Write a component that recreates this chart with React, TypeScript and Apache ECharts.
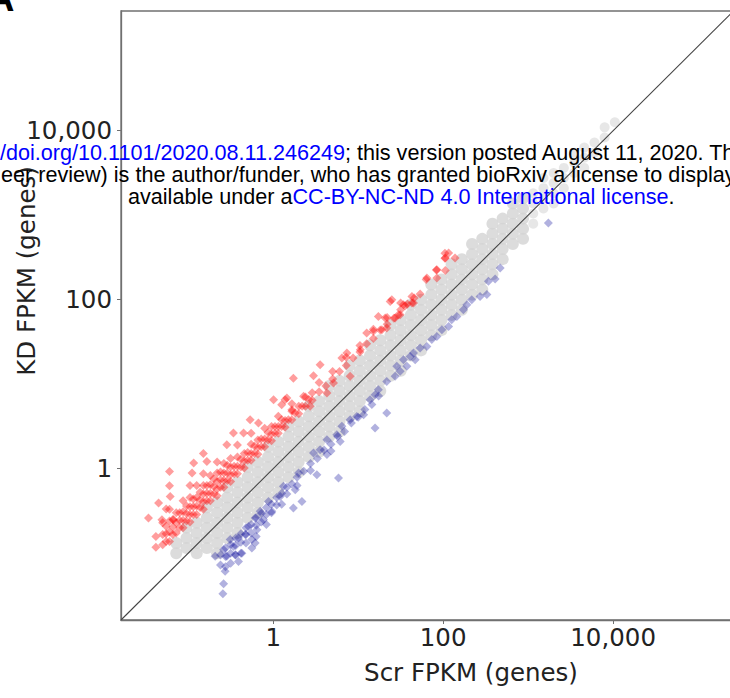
import { useEffect, useRef } from "react";
import * as echarts from "echarts";

// Tick values shown on both log axes
const tickValues = [1, 100, 10000];
const axisMin = 0.0162;
const xMax = 1.58e6;
const yMax = 2.61e5;

// Non-significant genes (gray): [Scr FPKM, [KD FPKM ...]]
const grayColumns: [number, number[]][] = [
  [0.0724, [0.1, 0.132]],
  [0.0955, [0.115, 0.151, 0.2]],
  [0.126, [0.1, 0.132, 0.174, 0.229]],
  [0.166, [0.115, 0.151, 0.2, 0.263, 0.347]],
  [0.219, [0.1, 0.132, 0.174, 0.229, 0.302, 0.398]],
  [0.288, [0.151, 0.2, 0.263, 0.347, 0.457, 0.603]],
  [0.38, [0.174, 0.229, 0.302, 0.398, 0.525, 0.692]],
  [0.501, [0.263, 0.347, 0.457, 0.603, 0.794, 1.047]],
  [0.661, [0.302, 0.398, 0.525, 0.692, 0.912, 1.202]],
  [0.871, [0.457, 0.603, 0.794, 1.047, 1.38, 1.82]],
  [1.148, [0.525, 0.692, 0.912, 1.202, 1.585, 2.089]],
  [1.514, [0.794, 1.047, 1.38, 1.82, 2.399, 3.162]],
  [1.995, [0.912, 1.202, 1.585, 2.089, 2.754, 3.631]],
  [2.63, [1.38, 1.82, 2.399, 3.162, 4.169, 5.495]],
  [3.467, [1.585, 2.089, 2.754, 3.631, 4.786, 6.31]],
  [4.571, [2.399, 3.162, 4.169, 5.495, 7.244, 9.55]],
  [6.026, [2.754, 3.631, 4.786, 6.31, 8.318, 10.96]],
  [7.943, [4.169, 5.495, 7.244, 9.55, 12.59, 16.6]],
  [10.47, [4.786, 6.31, 8.318, 10.96, 14.45, 19.05]],
  [13.8, [7.244, 9.55, 12.59, 16.6, 21.88, 28.84]],
  [18.2, [8.318, 10.96, 14.45, 19.05, 25.12, 33.11]],
  [23.99, [12.59, 16.6, 21.88, 28.84, 38.02, 50.12]],
  [31.62, [14.45, 19.05, 25.12, 33.11, 43.65, 57.54]],
  [41.69, [21.88, 28.84, 38.02, 50.12, 66.07, 87.1]],
  [54.95, [25.12, 33.11, 43.65, 57.54, 75.86, 100]],
  [72.44, [38.02, 50.12, 66.07, 87.1, 114.8, 151.4]],
  [95.5, [43.65, 57.54, 75.86, 100, 131.8, 173.8]],
  [125.9, [66.07, 87.1, 114.8, 151.4, 199.5, 263]],
  [166, [75.86, 100, 131.8, 173.8, 229.1, 302]],
  [218.8, [114.8, 151.4, 199.5, 263, 346.7, 457.1]],
  [288.4, [131.8, 173.8, 229.1, 302, 398.1, 524.8]],
  [380.2, [199.5, 263, 346.7, 457.1, 602.6, 794.3]],
  [501.2, [302, 398.1, 524.8, 691.8, 912]],
  [660.7, [457.1, 602.6, 794.3, 1047, 1380]],
  [871, [524.8, 691.8, 912, 1202, 1585]],
];

const grayTailColumns: [number, number[]][] = [
  [1148, [794.3, 1047, 1380, 1820]],
  [1514, [1202, 1585, 2089, 2754]],
  [1995, [1380, 1820, 2399, 3162]],
  [2630, [2089, 2754, 3631]],
  [3467, [3162, 4169, 5495]],
  [4571, [3631, 4786, 6310]],
  [6026, [5495, 7244]],
  [7943, [8318, 10960]],
  [10470, [12590]],
];

// Up-regulated in KD (red): [Scr FPKM, KD FPKM]
const redPoints: number[][] = [
  [0.0417, 0.118], [0.0417, 0.158],
  [0.0501, 0.126], [0.0501, 0.166], [0.0501, 0.229],
  [0.0603, 0.138], [0.0603, 0.178], [0.0603, 0.24], [0.0603, 0.331],
  [0.0724, 0.174], [0.0724, 0.229], [0.0724, 0.302],
  [0.0871, 0.2], [0.0871, 0.245], [0.0871, 0.309], [0.0871, 0.417],
  [0.105, 0.234], [0.105, 0.288], [0.105, 0.355], [0.105, 0.457], [0.105, 0.631],
  [0.126, 0.288], [0.126, 0.363], [0.126, 0.457], [0.126, 0.631],
  [0.151, 0.331], [0.151, 0.407], [0.151, 0.501], [0.151, 0.631], [0.151, 0.871],
  [0.182, 0.417], [0.182, 0.513], [0.182, 0.646], [0.182, 0.832],
  [0.219, 0.479], [0.219, 0.575], [0.219, 0.708], [0.219, 0.891], [0.219, 1.2],
  [0.263, 0.603], [0.263, 0.724], [0.263, 0.891], [0.263, 1.15],
  [0.316, 0.708], [0.316, 0.851], [0.316, 1.05], [0.316, 1.32],
  [0.38, 0.871], [0.38, 1.07], [0.38, 1.38], [0.38, 1.91],
  [0.457, 1.02], [0.457, 1.23], [0.457, 1.51],
  [0.55, 1.26], [0.55, 1.51], [0.55, 1.95], [0.55, 2.63],
  [0.661, 1.48], [0.661, 1.78], [0.661, 2.19],
  [0.794, 1.82], [0.794, 2.24], [0.794, 3.02],
  [0.955, 2.14], [0.955, 2.57], [0.955, 3.16],
  [1.15, 2.63], [1.15, 3.16], [1.15, 4.17],
  [1.38, 3.09], [1.38, 3.72],
  [1.66, 3.8], [1.66, 4.79], [1.66, 5.89],
  [2.0, 4.47], [2.0, 5.5],
  [2.4, 5.5], [2.4, 7.08],
  [2.88, 6.46], [2.88, 7.94],
  [3.47, 8.13], [3.47, 10.5],
  [4.17, 9.55],
  [5.01, 11.5], [5.01, 14.1],
  [6.03, 14.1],
  [7.24, 16.6], [7.24, 20.9],
  [8.71, 20.4],
  [10.5, 24.0], [10.5, 28.8],
  [12.6, 30.2],
  [15.1, 34.7], [15.1, 44.7],
  [18.2, 43.7],
  [21.9, 51.3], [21.9, 61.7],
  [26.3, 60.3],
  [31.6, 75.9], [31.6, 91.2],
  [38.0, 89.1],
  [45.7, 105],
  [63.1, 174],
  [83.2, 224],
  [105, 309], [105, 355],
  [0.055, 0.138], [0.055, 0.17], [0.055, 0.209],
  [0.0661, 0.166], [0.0661, 0.204], [0.0661, 0.251],
  [0.0794, 0.2], [0.0794, 0.245], [0.0794, 0.302],
  [0.0955, 0.24], [0.0955, 0.295], [0.0955, 0.363],
  [0.115, 0.288], [0.115, 0.355], [0.115, 0.437],
  [0.138, 0.347], [0.138, 0.427], [0.138, 0.525],
  [0.166, 0.417], [0.166, 0.513], [0.166, 0.631],
  [0.2, 0.501], [0.2, 0.617], [0.2, 0.759],
  [0.24, 0.603], [0.24, 0.741], [0.24, 0.912],
  [0.288, 0.724], [0.288, 0.891], [0.288, 1.1],
  [0.347, 0.871], [0.347, 1.07],
  [0.417, 1.05], [0.417, 1.29],
  [0.501, 1.26], [0.501, 1.55],
  [0.603, 1.51], [0.603, 1.86],
  [0.724, 1.82], [0.724, 2.24],
  [0.871, 2.19], [0.871, 2.69],
  [1.05, 2.63], [1.05, 3.16],
  [1.26, 3.16], [1.26, 3.8],
  [1.51, 3.8],
  [1.82, 4.57],
  [2.19, 5.5],
  [2.63, 6.61],
  [0.0341, 0.261], [0.0448, 0.393], [0.0491, 0.249], [0.0603, 0.929],
  [0.0603, 0.63], [0.0614, 0.47], [0.0551, 0.333], [0.0671, 0.249],
  [0.111, 0.889], [0.116, 1.17], [0.151, 1.51], [0.166, 1.22],
  [0.285, 1.92], [0.341, 2.64], [0.448, 2.64], [0.536, 3.8], [0.671, 3.48],
  [1.01, 6.56], [1.26, 5.71], [1.45, 6.87], [1.73, 11.8], [2.98, 12.6],
  [1.38, 6.56], [2.28, 7.18], [1.66, 4.99], [2.72, 5.47], [4.29, 7.87],
  [5.13, 10.3], [8.05, 12.4], [3.57, 17.0], [6.43, 20.4], [7.36, 23.4],
  [10.6, 25.6], [12.6, 40.4], [15.1, 42.2], [17.3, 63.4], [29.8, 66.4],
  [23.8, 95.5], [34.1, 87.3], [42.9, 91.4], [116, 357], [138, 312],
  [106, 312], [84.3, 226], [106, 222], [64.3, 181], [84.3, 181],
  [24.9, 100], [42.9, 109], [53.6, 117], [35.7, 84.9], [44.8, 91.4],
  [31.2, 66.4], [27.2, 60.7], [20.8, 60.7], [21.7, 46.2], [19.0, 44.2],
];

// Down-regulated in KD (blue): [Scr FPKM, KD FPKM]
const bluePoints: number[][] = [
  [0.24, 0.0955], [0.24, 0.0724],
  [0.275, 0.115], [0.275, 0.0912], [0.275, 0.0692],
  [0.316, 0.126], [0.316, 0.1], [0.316, 0.0759],
  [0.363, 0.151], [0.363, 0.123], [0.363, 0.0955],
  [0.417, 0.17], [0.417, 0.135], [0.417, 0.1],
  [0.479, 0.2], [0.479, 0.166], [0.479, 0.132],
  [0.55, 0.219], [0.55, 0.174],
  [0.631, 0.263], [0.631, 0.214], [0.631, 0.158],
  [0.724, 0.295], [0.724, 0.234],
  [0.832, 0.347], [0.832, 0.288], [0.832, 0.219],
  [0.955, 0.38], [0.955, 0.302],
  [1.1, 0.457], [1.1, 0.372],
  [1.26, 0.513], [1.26, 0.38],
  [1.45, 0.603], [1.45, 0.501],
  [1.66, 0.661],
  [1.91, 0.794], [1.91, 0.631],
  [2.29, 0.933],
  [2.75, 1.15], [2.75, 0.955],
  [3.31, 1.32],
  [3.98, 1.66],
  [4.79, 1.95], [4.79, 1.62],
  [5.75, 2.4],
  [6.92, 2.75],
  [8.32, 3.47],
  [10, 4.07],
  [12.0, 5.01],
  [14.5, 5.75],
  [17.4, 7.24],
  [1730, 809], [469, 237], [409, 176], [341, 165], [327, 115], [272, 109],
  [217, 100], [190, 87.3], [173, 76.2], [145, 63.4], [126, 57.9], [116, 48.3],
  [96.6, 44.2], [84.3, 36.8], [73.6, 33.7], [64.3, 28.0], [53.6, 26.8],
  [44.8, 23.4], [40.9, 21.3], [34.1, 19.5], [28.5, 16.3], [46.9, 19.5],
  [37.4, 16.3], [31.2, 14.2], [27.2, 12.4], [21.7, 10.8], [17.3, 8.61],
  [15.8, 7.52], [13.8, 6.56], [21.7, 4.56], [15.8, 3.03], [11.6, 4.36],
  [9.64, 4.16], [8.05, 3.8], [6.43, 3.17], [5.61, 2.52], [6.14, 2.1],
  [4.29, 2.2], [3.57, 1.68], [2.98, 1.53], [4.29, 1.47], [3.27, 0.849],
  [1.99, 0.889], [1.82, 0.564], [2.18, 0.41], [1.73, 0.343], [1.32, 0.618],
  [1.21, 0.47], [0.881, 0.41], [0.964, 0.313], [0.703, 0.313], [0.769, 0.249],
  [0.614, 0.261], [0.643, 0.19], [0.513, 0.207], [0.469, 0.166], [0.561, 0.145],
  [0.391, 0.151], [0.312, 0.145], [0.341, 0.12], [0.261, 0.11], [0.208, 0.0918],
  [0.285, 0.0918], [0.357, 0.0959], [0.428, 0.1], [0.272, 0.061], [0.261, 0.0436],
  [0.256, 0.0332], [0.391, 0.08], [0.561, 0.115], [0.614, 0.132], [5.87, 0.776],
];

// Identity line y = x
const identityLine: number[][] = [
  [axisMin, axisMin],
  [xMax, xMax],
];

const FONT_AXIS = "DejaVu Sans";
const FONT_WM = "Liberation Sans";
const AXIS_FS = 24.5;
const WM_FS = 21.6;

export default function App() {
  const ref = useRef<HTMLDivElement>(null);

  useEffect(() => {
    if (!ref.current) return;
    const chart = echarts.init(ref.current, null, { renderer: "svg" });
    const grayCore = grayColumns.flatMap(([x, ys]) => ys.map((y) => [x, y]));
    const grayTail = grayTailColumns.flatMap(([x, ys]) => ys.map((y) => [x, y]));
    const fmt = (v: number) =>
      tickValues.includes(Math.round(v)) && Math.abs(v - Math.round(v)) < 1e-6
        ? Math.round(v).toLocaleString("en-US")
        : "";
    const axisColor = "#707070";
    const wmRich = {
      b: { fill: "#0000ff", fontSize: WM_FS, fontFamily: FONT_WM },
      k: { fill: "#000000", fontSize: WM_FS, fontFamily: FONT_WM },
    };

    chart.setOption({
      animation: false,
      backgroundColor: "#ffffff",
      grid: {
        left: 121,
        top: 11,
        right: 0,
        bottom: 78,
        show: true,
        borderColor: axisColor,
        borderWidth: 1.3,
        containLabel: false,
        outerBoundsMode: "none",
      },
      xAxis: {
        type: "log",
        logBase: 100,
        min: axisMin,
        max: xMax,
        splitLine: { show: false },
        minorTick: { show: false },
        axisLine: { show: true, lineStyle: { color: axisColor, width: 1.3 } },
        axisTick: { show: true, length: 4, lineStyle: { color: axisColor } },
        axisLabel: {
          formatter: fmt,
          fontFamily: FONT_AXIS,
          fontSize: AXIS_FS,
          color: "#222",
          margin: 5,
          showMinLabel: false,
          showMaxLabel: false,
        },
      },
      yAxis: {
        type: "log",
        logBase: 100,
        min: axisMin,
        max: yMax,
        splitLine: { show: false },
        minorTick: { show: false },
        axisLine: { show: true, lineStyle: { color: axisColor, width: 1.3 } },
        axisTick: { show: true, length: 4, lineStyle: { color: axisColor } },
        axisLabel: {
          formatter: fmt,
          fontFamily: FONT_AXIS,
          fontSize: AXIS_FS,
          color: "#222",
          margin: 9,
          showMinLabel: false,
          showMaxLabel: false,
        },
      },
      series: [
        {
          name: "Not significant",
          type: "scatter",
          data: grayCore,
          symbol: "circle",
          symbolSize: 12,
          itemStyle: { color: "#d3d3d3" },
          z: 2,
        },
        {
          name: "Not significant (high)",
          type: "scatter",
          data: grayTail,
          symbol: "circle",
          symbolSize: 10,
          itemStyle: { color: "rgba(212,212,212,0.7)" },
          z: 2,
        },
        {
          name: "Up in KD",
          type: "scatter",
          data: redPoints,
          symbol: "diamond",
          symbolSize: 9,
          itemStyle: { color: "rgba(255,0,0,0.48)" },
          z: 3,
        },
        {
          name: "Down in KD",
          type: "scatter",
          data: bluePoints,
          symbol: "diamond",
          symbolSize: 9,
          itemStyle: { color: "rgba(0,0,150,0.38)" },
          z: 3,
        },
        {
          name: "y = x",
          type: "line",
          data: identityLine,
          showSymbol: false,
          symbol: "none",
          lineStyle: { color: "#444", width: 1.1 },
          z: 4,
        },
      ],
      graphic: [
        {
          type: "text",
          x: 26,
          y: 271,
          rotation: Math.PI / 2,
          style: {
            text: "KD FPKM (genes)",
            fontFamily: FONT_AXIS,
            fontSize: AXIS_FS,
            fill: "#222",
            textAlign: "center",
            textVerticalAlign: "middle",
          },
          z: 10,
        },
        {
          type: "text",
          x: 471,
          y: 672,
          style: {
            text: "Scr FPKM (genes)",
            fontFamily: FONT_AXIS,
            fontSize: AXIS_FS,
            fill: "#222",
            textAlign: "center",
            textVerticalAlign: "middle",
          },
          z: 10,
        },
        {
          type: "text",
          x: -13,
          y: 17,
          style: {
            text: "A",
            fontFamily: FONT_WM,
            fontWeight: "bold",
            fontSize: 38,
            fill: "#000",
            textAlign: "left",
            textVerticalAlign: "bottom",
          },
          z: 10,
        },
        {
          type: "text",
          x: 0,
          y: 152,
          style: {
            text: "{b|/doi.org/10.1101/2020.08.11.246249}{k|; this version posted August 11, 2020. The copyright holder}",
            rich: wmRich,
            fontSize: WM_FS,
            fontFamily: FONT_WM,
            textAlign: "left",
            textVerticalAlign: "middle",
          },
          z: 20,
        },
        {
          type: "text",
          x: 1,
          y: 174,
          style: {
            text: "{k|eer review) is the author/funder, who has granted bioRxiv a license to display the preprint}",
            rich: wmRich,
            fontSize: WM_FS,
            fontFamily: FONT_WM,
            textAlign: "left",
            textVerticalAlign: "middle",
          },
          z: 20,
        },
        {
          type: "text",
          x: 128,
          y: 196,
          style: {
            text: "{k|available under a}{b|CC-BY-NC-ND 4.0 International license}{k|.}",
            rich: wmRich,
            fontSize: WM_FS,
            fontFamily: FONT_WM,
            textAlign: "left",
            textVerticalAlign: "middle",
          },
          z: 20,
        },
      ],
    });

    return () => chart.dispose();
  }, []);

  return (
    <div
      style={{
        position: "fixed",
        left: 0,
        top: 0,
        width: 730,
        height: 698,
        overflow: "hidden",
        background: "#fff",
      }}
    >
      <div ref={ref} style={{ width: 800, height: 698 }} />
    </div>
  );
}
